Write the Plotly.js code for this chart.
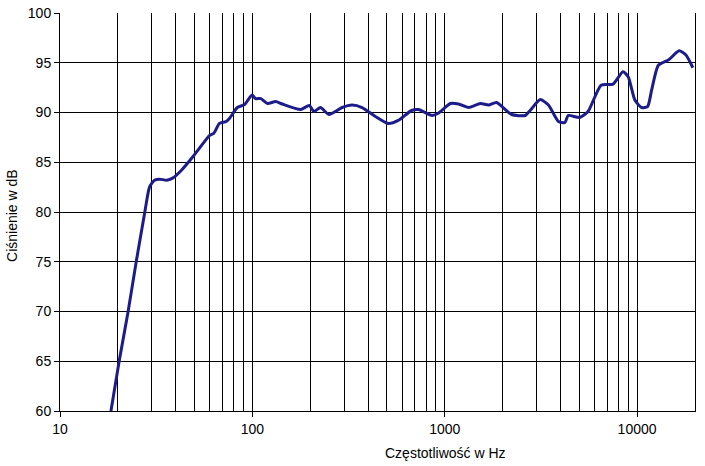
<!DOCTYPE html>
<html>
<head>
<meta charset="utf-8">
<script src="https://cdn.plot.ly/plotly-3.0.1.min.js"></script>
<style>html,body{margin:0;padding:0;background:#fff;}#chart{width:705px;height:466px;}</style>
</head>
<body>
<div id="chart"></div>
<script>
const freqHz = [18.4, 20.3, 22.6, 24.9, 27.6, 29.2, 31, 33, 35.8, 38.5, 42.8, 48.8, 53, 60, 63, 67.4, 73, 76, 83.5, 91, 99.6, 104, 110.6, 120, 132, 143, 178, 197.5, 209, 226, 250, 293, 330, 372, 436, 508, 573, 672, 730, 860, 930, 1070, 1180, 1330, 1531, 1690, 1860, 2225, 2620, 2780, 3135, 3460, 3900, 4220, 4380, 5030, 5560, 6500, 7500, 8440, 8990, 9740, 10550, 11340, 11900, 12900, 14600, 16540, 17900, 19500];
const pressureDb = [60, 65, 70, 75, 80, 82.5, 83.2, 83.3, 83.2, 83.4, 84.2, 85.5, 86.4, 87.7, 87.9, 88.9, 89.1, 89.4, 90.5, 90.8, 91.75, 91.4, 91.4, 90.9, 91.1, 90.85, 90.3, 90.7, 90.1, 90.5, 89.8, 90.5, 90.75, 90.5, 89.6, 88.9, 89.2, 90.2, 90.3, 89.7, 89.95, 90.9, 90.85, 90.5, 90.9, 90.75, 91.0, 89.8, 89.7, 90.2, 91.3, 90.75, 89.1, 89.0, 89.7, 89.5, 90.1, 92.75, 92.85, 94.1, 93.6, 91.25, 90.5, 90.6, 92.25, 94.75, 95.3, 96.2, 95.8, 94.5];
const yTicks = [60, 65, 70, 75, 80, 85, 90, 95, 100];
const xTitle = "Częstotliwość w Hz";
const yTitle = "Ciśnienie w dB";

const font = {family: "Liberation Sans, Arial, sans-serif", color: "#000"};

Plotly.newPlot("chart", [{
  x: freqHz, y: pressureDb, type: "scatter", mode: "lines",
  line: {color: "#1c1c8a", width: 3, shape: "spline", smoothing: 0.6},
  hoverinfo: "none"
}], {
  width: 705, height: 466,
  margin: {l: 60, r: 10, t: 13, b: 55},
  paper_bgcolor: "#fff", plot_bgcolor: "#fff",
  showlegend: false,
  font: Object.assign({size: 14}, font),
  xaxis: {
    type: "log", range: [1, Math.log10(20000)],
    dtick: 1, tickformat: "d",
    ticks: "outside", ticklen: 5, tickcolor: "#000",
    showline: true, linecolor: "#000", linewidth: 1,
    showgrid: true, gridcolor: "#000", gridwidth: 1,
    minor: {dtick: "D1", showgrid: true, gridcolor: "#000", gridwidth: 1, ticks: ""},
    zeroline: false,
    tickfont: Object.assign({size: 14}, font)
  },
  yaxis: {
    range: [60, 100], tickvals: yTicks,
    ticks: "outside", ticklen: 5, tickcolor: "#000",
    showline: true, mirror: true, linecolor: "#000", linewidth: 1,
    showgrid: true, gridcolor: "#000", gridwidth: 1,
    zeroline: false,
    tickfont: Object.assign({size: 14}, font)
  },
  annotations: [{
    text: xTitle, xref: "paper", yref: "paper",
    x: (445 - 60) / 635, y: 0, yshift: -42, xanchor: "center", yanchor: "middle",
    showarrow: false, font: Object.assign({size: 14}, font)
  }, {
    text: yTitle, xref: "paper", yref: "paper", textangle: -90,
    x: 0, y: 0.49, xshift: -48, xanchor: "center", yanchor: "middle",
    showarrow: false, font: Object.assign({size: 14}, font)
  }]
}, {staticPlot: true});
</script>
</body>
</html>
